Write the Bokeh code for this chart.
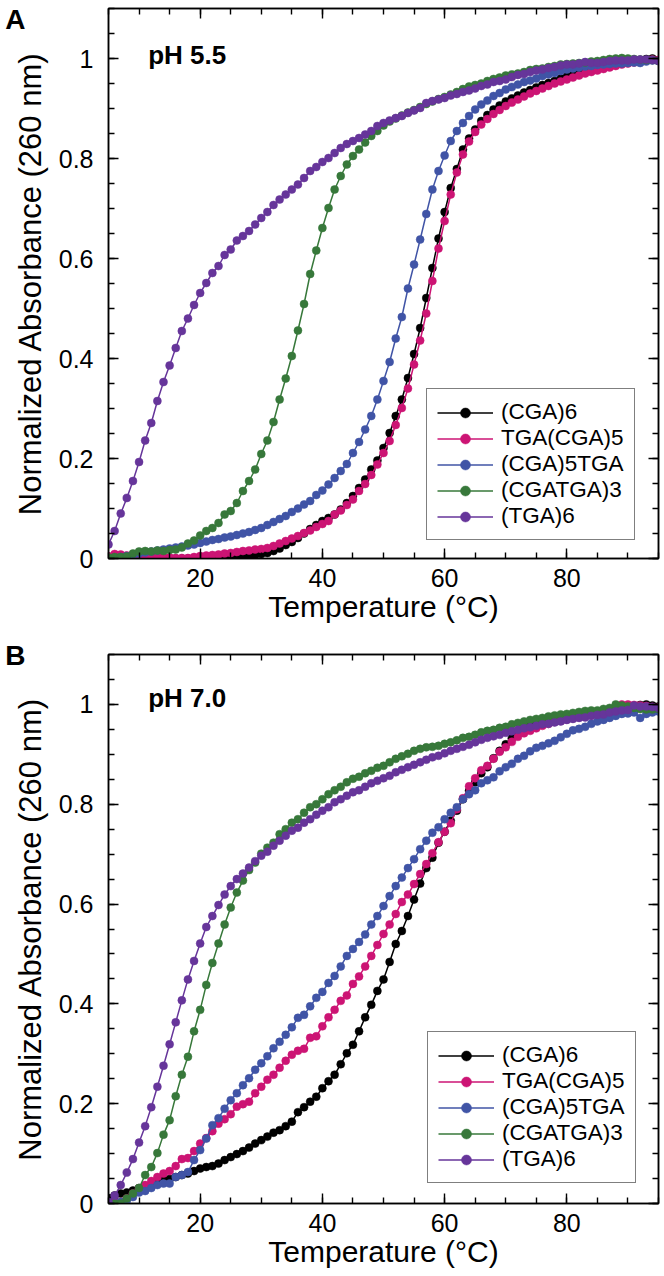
from bokeh.plotting import figure
from bokeh.layouts import column
from bokeh.models import (Range1d, SingleIntervalTicker, LinearAxis, Legend, LegendItem,
                          Label, CustomJSTickFormatter, ColumnDataSource)
from bokeh.core.properties import value
from bokeh.embed import file_html
from bokeh.resources import INLINE

# ---------------- data ----------------
temperature = list(range(5, 96))
labels = ["(CGA)6", "TGA(CGA)5", "(CGA)5TGA", "(CGATGA)3", "(TGA)6"]
colors = ["#000000", "#CC1474", "#4054A6", "#37783A", "#66359A"]

# pH 5.5 (panel A)
a_cga6 = [0.004, 0.004, 0.003, 0.003, 0.003, 0.002, 0.002, 0.002, 0.002, 0.001, 0.001,
          0.0, 0.0, 0.0, 0.0, 0.0, 0.0, 0.0, 0.0, 0.0, 0.0,
          0.001, 0.003, 0.005, 0.007, 0.009, 0.011, 0.015, 0.02, 0.027, 0.033,
          0.041, 0.05, 0.059, 0.067, 0.075, 0.081, 0.088, 0.098, 0.111, 0.125,
          0.141, 0.158, 0.178, 0.196, 0.221, 0.251, 0.285, 0.318, 0.361, 0.409,
          0.461, 0.521, 0.581, 0.64, 0.693, 0.741, 0.779, 0.818, 0.84, 0.858,
          0.875, 0.887, 0.898, 0.906, 0.914, 0.92, 0.926, 0.932, 0.937, 0.942,
          0.947, 0.951, 0.955, 0.96, 0.964, 0.968, 0.972, 0.975, 0.978, 0.981,
          0.984, 0.986, 0.989, 0.991, 0.993, 0.995, 0.997, 0.999, 1.0, 0.997]
a_tga_cga5 = [0.004, 0.009, 0.008, 0.006, 0.005, 0.002, 0.004, 0.005, 0.004, 0.003, 0.002,
              0.001, 0.001, 0.001, 0.003, 0.005, 0.006, 0.007, 0.008, 0.01, 0.011,
              0.013, 0.015, 0.016, 0.018, 0.019, 0.021, 0.025, 0.03, 0.035, 0.04,
              0.045, 0.051, 0.056, 0.063, 0.069, 0.075, 0.088, 0.096, 0.107, 0.118,
              0.135, 0.149, 0.167, 0.188, 0.211, 0.235, 0.267, 0.301, 0.34, 0.388,
              0.436, 0.49, 0.555, 0.62, 0.675, 0.728, 0.772, 0.808, 0.834, 0.853,
              0.868, 0.879, 0.889, 0.897, 0.905, 0.912, 0.918, 0.924, 0.93, 0.935,
              0.94, 0.945, 0.95, 0.954, 0.958, 0.962, 0.966, 0.97, 0.973, 0.976,
              0.979, 0.982, 0.985, 0.988, 0.99, 0.992, 0.994, 0.996, 0.998, 0.997]
a_cga5_tga = [0.0, 0.001, 0.003, 0.005, 0.007, 0.01, 0.012, 0.014, 0.016, 0.018, 0.02,
              0.022, 0.024, 0.026, 0.028, 0.031, 0.034, 0.037, 0.039, 0.042, 0.044,
              0.047, 0.05, 0.053, 0.057, 0.061, 0.067, 0.073, 0.079, 0.085, 0.093,
              0.1, 0.108, 0.115, 0.127, 0.136, 0.148, 0.161, 0.175, 0.189, 0.211,
              0.233, 0.258, 0.285, 0.318, 0.355, 0.393, 0.44, 0.483, 0.54, 0.588,
              0.638, 0.689, 0.738, 0.775, 0.806, 0.835, 0.855, 0.871, 0.885, 0.898,
              0.908, 0.916, 0.925, 0.931, 0.938, 0.943, 0.948, 0.953, 0.956, 0.96,
              0.965, 0.968, 0.971, 0.975, 0.978, 0.98, 0.982, 0.984, 0.985, 0.987,
              0.988, 0.989, 0.99, 0.99, 0.991, 0.992, 0.991, 0.994, 0.996, 0.995]
a_cgatga3 = [0.002, 0.003, 0.003, 0.004, 0.01, 0.014, 0.015, 0.014, 0.016, 0.015, 0.017,
             0.018, 0.022, 0.03, 0.036, 0.046, 0.055, 0.061, 0.071, 0.088, 0.095,
             0.111, 0.135, 0.155, 0.178, 0.209, 0.236, 0.273, 0.318, 0.36, 0.405,
             0.456, 0.509, 0.569, 0.616, 0.661, 0.701, 0.738, 0.765, 0.788, 0.805,
             0.818, 0.832, 0.845, 0.855, 0.866, 0.874, 0.88, 0.886, 0.892, 0.897,
             0.903, 0.909, 0.914, 0.919, 0.923, 0.928, 0.933, 0.939, 0.944, 0.947,
             0.95, 0.955, 0.959, 0.962, 0.966, 0.968, 0.97, 0.973, 0.977, 0.979,
             0.98, 0.983, 0.985, 0.988, 0.989, 0.99, 0.991, 0.992, 0.994, 0.995,
             0.997, 0.999, 1.0, 1.001, 1.0, 0.999, 0.998, 0.997, 0.997, 0.995]
a_tga6 = [0.028, 0.055, 0.09, 0.121, 0.155, 0.193, 0.236, 0.271, 0.315, 0.353, 0.386,
          0.421, 0.455, 0.48, 0.507, 0.531, 0.551, 0.571, 0.585, 0.607, 0.618,
          0.636, 0.645, 0.655, 0.668, 0.681, 0.693, 0.707, 0.718, 0.728, 0.738,
          0.748, 0.761, 0.775, 0.783, 0.793, 0.801, 0.811, 0.821, 0.829, 0.835,
          0.841, 0.848, 0.855, 0.865, 0.871, 0.876, 0.881, 0.885, 0.891, 0.896,
          0.901, 0.911, 0.915, 0.918, 0.921, 0.926, 0.929, 0.933, 0.936, 0.94,
          0.945, 0.948, 0.953, 0.955, 0.958, 0.963, 0.967, 0.969, 0.973, 0.976,
          0.978, 0.981, 0.983, 0.986, 0.988, 0.988, 0.99, 0.993, 0.991, 0.991,
          0.993, 0.995, 0.996, 0.996, 0.996, 0.998, 0.998, 0.998, 0.997, 0.995]

# pH 7.0 (panel B)
b_cga6 = [0.011, 0.016, 0.02, 0.022, 0.026, 0.031, 0.035, 0.038, 0.042, 0.046, 0.049,
          0.053, 0.057, 0.06, 0.065, 0.07, 0.073, 0.075, 0.08, 0.087, 0.093,
          0.099, 0.105, 0.112, 0.12, 0.127, 0.134, 0.142, 0.147, 0.155, 0.164,
          0.183, 0.193, 0.204, 0.214, 0.231, 0.245, 0.258, 0.279, 0.301, 0.318,
          0.345, 0.373, 0.398, 0.426, 0.449, 0.484, 0.52, 0.546, 0.576, 0.609,
          0.641, 0.672, 0.693, 0.723, 0.745, 0.767, 0.787, 0.81, 0.827, 0.844,
          0.862, 0.874, 0.892, 0.907, 0.92, 0.932, 0.943, 0.951, 0.956, 0.96,
          0.964, 0.967, 0.97, 0.972, 0.975, 0.977, 0.979, 0.981, 0.983, 0.985,
          0.987, 0.989, 0.991, 0.993, 0.995, 0.997, 0.999, 1.0, 0.998, 0.996]
b_tga_cga5 = [0.0, 0.002, 0.003, 0.01, 0.02, 0.03, 0.037, 0.045, 0.053, 0.06, 0.065,
              0.075, 0.089, 0.091, 0.105, 0.12, 0.131, 0.145, 0.16, 0.169, 0.179,
              0.194, 0.199, 0.204, 0.221, 0.234, 0.248, 0.258, 0.272, 0.286, 0.298,
              0.306, 0.31, 0.332, 0.335, 0.355, 0.373, 0.388, 0.406, 0.417, 0.44,
              0.455, 0.475, 0.496, 0.518, 0.54, 0.559, 0.58, 0.604, 0.619, 0.64,
              0.66, 0.68, 0.702, 0.724, 0.745, 0.762, 0.79, 0.812, 0.836, 0.852,
              0.868, 0.877, 0.891, 0.905, 0.914, 0.925, 0.935, 0.942, 0.947, 0.952,
              0.957, 0.961, 0.965, 0.967, 0.97, 0.973, 0.976, 0.979, 0.982, 0.985,
              0.988, 0.991, 0.995, 1.0, 1.0, 0.999, 0.998, 0.997, 0.995, 0.994]
b_cga5_tga = [0.0, 0.0, 0.003, 0.006, 0.013, 0.022, 0.025, 0.031, 0.037, 0.04, 0.04,
              0.053, 0.057, 0.063, 0.087, 0.107, 0.13, 0.157, 0.171, 0.19, 0.207,
              0.221, 0.237, 0.251, 0.268, 0.281, 0.295, 0.311, 0.324, 0.338, 0.353,
              0.372, 0.378, 0.395, 0.412, 0.424, 0.442, 0.456, 0.475, 0.496, 0.51,
              0.524, 0.539, 0.559, 0.576, 0.596, 0.616, 0.636, 0.653, 0.672, 0.69,
              0.71, 0.727, 0.743, 0.754, 0.77, 0.783, 0.794, 0.81, 0.82, 0.828,
              0.842, 0.848, 0.854, 0.866, 0.874, 0.881, 0.891, 0.897, 0.906, 0.913,
              0.917, 0.922, 0.927, 0.934, 0.941, 0.948, 0.951, 0.955, 0.961, 0.966,
              0.969, 0.973, 0.977, 0.981, 0.982, 0.984, 0.973, 0.981, 0.984, 0.986]
b_cgatga3 = [0.0, 0.0, 0.0, 0.01, 0.02, 0.031, 0.057, 0.073, 0.101, 0.138, 0.167,
             0.215, 0.258, 0.294, 0.345, 0.388, 0.438, 0.482, 0.521, 0.559, 0.593,
             0.623, 0.647, 0.668, 0.683, 0.701, 0.713, 0.723, 0.74, 0.75, 0.763,
             0.77, 0.783, 0.794, 0.8, 0.81, 0.82, 0.828, 0.835, 0.844, 0.851,
             0.855, 0.862, 0.867, 0.873, 0.877, 0.884, 0.891, 0.896, 0.901, 0.907,
             0.911, 0.914, 0.915, 0.917, 0.921, 0.924, 0.928, 0.933, 0.935, 0.939,
             0.944, 0.947, 0.949, 0.953, 0.955, 0.96, 0.963, 0.966, 0.969, 0.971,
             0.973, 0.976, 0.978, 0.98, 0.981, 0.983, 0.985, 0.987, 0.988, 0.988,
             0.991, 0.993, 1.0, 0.998, 0.996, 0.993, 0.991, 0.99, 0.99, 0.991]
b_tga6 = [0.003, 0.016, 0.037, 0.062, 0.089, 0.122, 0.155, 0.193, 0.234, 0.276, 0.319,
          0.363, 0.407, 0.449, 0.486, 0.521, 0.554, 0.576, 0.598, 0.619, 0.636,
          0.65, 0.661, 0.673, 0.686, 0.697, 0.705, 0.717, 0.727, 0.737, 0.747,
          0.753, 0.763, 0.77, 0.779, 0.787, 0.794, 0.804, 0.81, 0.817, 0.824,
          0.828, 0.835, 0.842, 0.847, 0.852, 0.857, 0.864, 0.869, 0.874, 0.879,
          0.884, 0.889, 0.894, 0.897, 0.902, 0.907, 0.911, 0.915, 0.919, 0.924,
          0.929, 0.933, 0.936, 0.939, 0.943, 0.946, 0.949, 0.952, 0.954, 0.957,
          0.96, 0.961, 0.964, 0.966, 0.969, 0.971, 0.973, 0.974, 0.977, 0.979,
          0.98, 0.984, 0.986, 0.988, 0.989, 0.998, 0.996, 0.996, 0.995, 0.993]

panel_a = [a_cga6, a_tga_cga5, a_cga5_tga, a_cgatga3, a_tga6]
panel_b = [b_cga6, b_tga_cga5, b_cga5_tga, b_cgatga3, b_tga6]

FONT = "Liberation Sans"


def style_axis(ax, ticker, show_labels):
    ax.ticker = ticker
    ax.axis_line_color = "black"
    ax.axis_line_width = 1.5
    ax.major_tick_line_color = "black"
    ax.minor_tick_line_color = "black"
    ax.major_tick_line_width = 1.4
    ax.minor_tick_line_width = 1.4
    ax.major_tick_in = 10
    ax.major_tick_out = 0
    ax.minor_tick_in = 6
    ax.minor_tick_out = 0
    if show_labels:
        ax.major_label_text_font = FONT
        ax.major_label_text_font_size = "25px"
        ax.major_label_text_color = "black"
        ax.major_label_standoff = 10
        ax.formatter = CustomJSTickFormatter(code="return String(Math.round(tick*100)/100);")
    else:
        ax.major_label_text_font_size = "0px"
        ax.major_label_standoff = 0
        ax.formatter = CustomJSTickFormatter(code="return '';")


def make_panel(series, letter, letter_y, ph_text, ph_y, top_border, frame_h,
               bottom_border, legend_loc):
    p = figure(frame_width=550, frame_height=frame_h,
               x_range=Range1d(5, 95), y_range=Range1d(0, 1.1),
               output_backend="svg", toolbar_location=None,
               min_border_left=108, min_border_right=5,
               min_border_top=top_border, min_border_bottom=bottom_border,
               background_fill_color="white", border_fill_color="white")
    p.xgrid.visible = False
    p.ygrid.visible = False
    p.outline_line_color = "black"
    p.outline_line_width = 1.5

    style_axis(p.xaxis[0], SingleIntervalTicker(interval=20, num_minor_ticks=4), True)
    style_axis(p.yaxis[0], SingleIntervalTicker(interval=0.2, num_minor_ticks=4), True)
    p.yaxis[0].major_label_standoff = 15
    p.xaxis[0].axis_label = "Temperature (°C)"
    p.xaxis[0].axis_label_text_font = FONT
    p.xaxis[0].axis_label_text_font_size = "30px"
    p.xaxis[0].axis_label_text_font_style = "normal"
    p.xaxis[0].axis_label_text_color = "black"
    p.xaxis[0].axis_label_standoff = 0
    p.yaxis[0].axis_label = "Normalized Absorbance (260 nm)"
    p.yaxis[0].axis_label_text_font = FONT
    p.yaxis[0].axis_label_text_font_size = "31px"
    p.yaxis[0].axis_label_text_font_style = "normal"
    p.yaxis[0].axis_label_text_color = "black"
    p.yaxis[0].axis_label_standoff = 8

    top_ax = LinearAxis()
    style_axis(top_ax, SingleIntervalTicker(interval=20, num_minor_ticks=4), False)
    p.add_layout(top_ax, "above")
    right_ax = LinearAxis()
    style_axis(right_ax, SingleIntervalTicker(interval=0.2, num_minor_ticks=4), False)
    p.add_layout(right_ax, "right")

    items = []
    for name, col, vals in zip(labels, colors, series):
        src = ColumnDataSource(dict(t=temperature, v=vals))
        lr = p.line("t", "v", source=src, line_color=col, line_width=1.5)
        sr = p.scatter("t", "v", source=src, size=8, fill_color=col, line_color=col,
                       line_width=0.5)
        items.append(LegendItem(label=name, renderers=[lr, sr]))

    legend = Legend(items=items, location=legend_loc)
    legend.label_text_font = FONT
    legend.label_text_font_size = "22.5px"
    legend.label_text_line_height = 1.0
    legend.label_text_color = "black"
    legend.glyph_width = 56
    legend.glyph_height = 25
    legend.label_height = 25
    legend.label_standoff = 8
    legend.spacing = 0
    legend.padding = 10
    legend.margin = 0
    legend.border_line_color = "black"
    legend.border_line_width = 1.4
    legend.background_fill_color = "white"
    legend.background_fill_alpha = 1.0
    p.add_layout(legend)

    p.add_layout(Label(x=11.5, y=ph_y, text=ph_text, text_font=FONT,
                       text_font_size="26px", text_font_style="bold", text_color="black",
                       text_baseline="middle", text_align="left"))

    # panel letter, drawn above the frame clip (overlay level)
    p.text(x=[-11.9], y=[letter_y], text=[letter], text_font=value(FONT),
           text_font_size="28px", text_font_style="bold", text_color="black",
           text_baseline="middle", text_align="left", level="overlay")
    return p


pa = make_panel(panel_a, "A", 1.079, "pH 5.5", 1.008, 8, 550, 72, (318, 18))
pb = make_panel(panel_b, "B", 1.098, "pH 7.0", 1.012, 24, 549, 69, (319, 20))

layout = column(pa, pb, spacing=0)
open("out.html", "w").write(file_html(layout, INLINE))
